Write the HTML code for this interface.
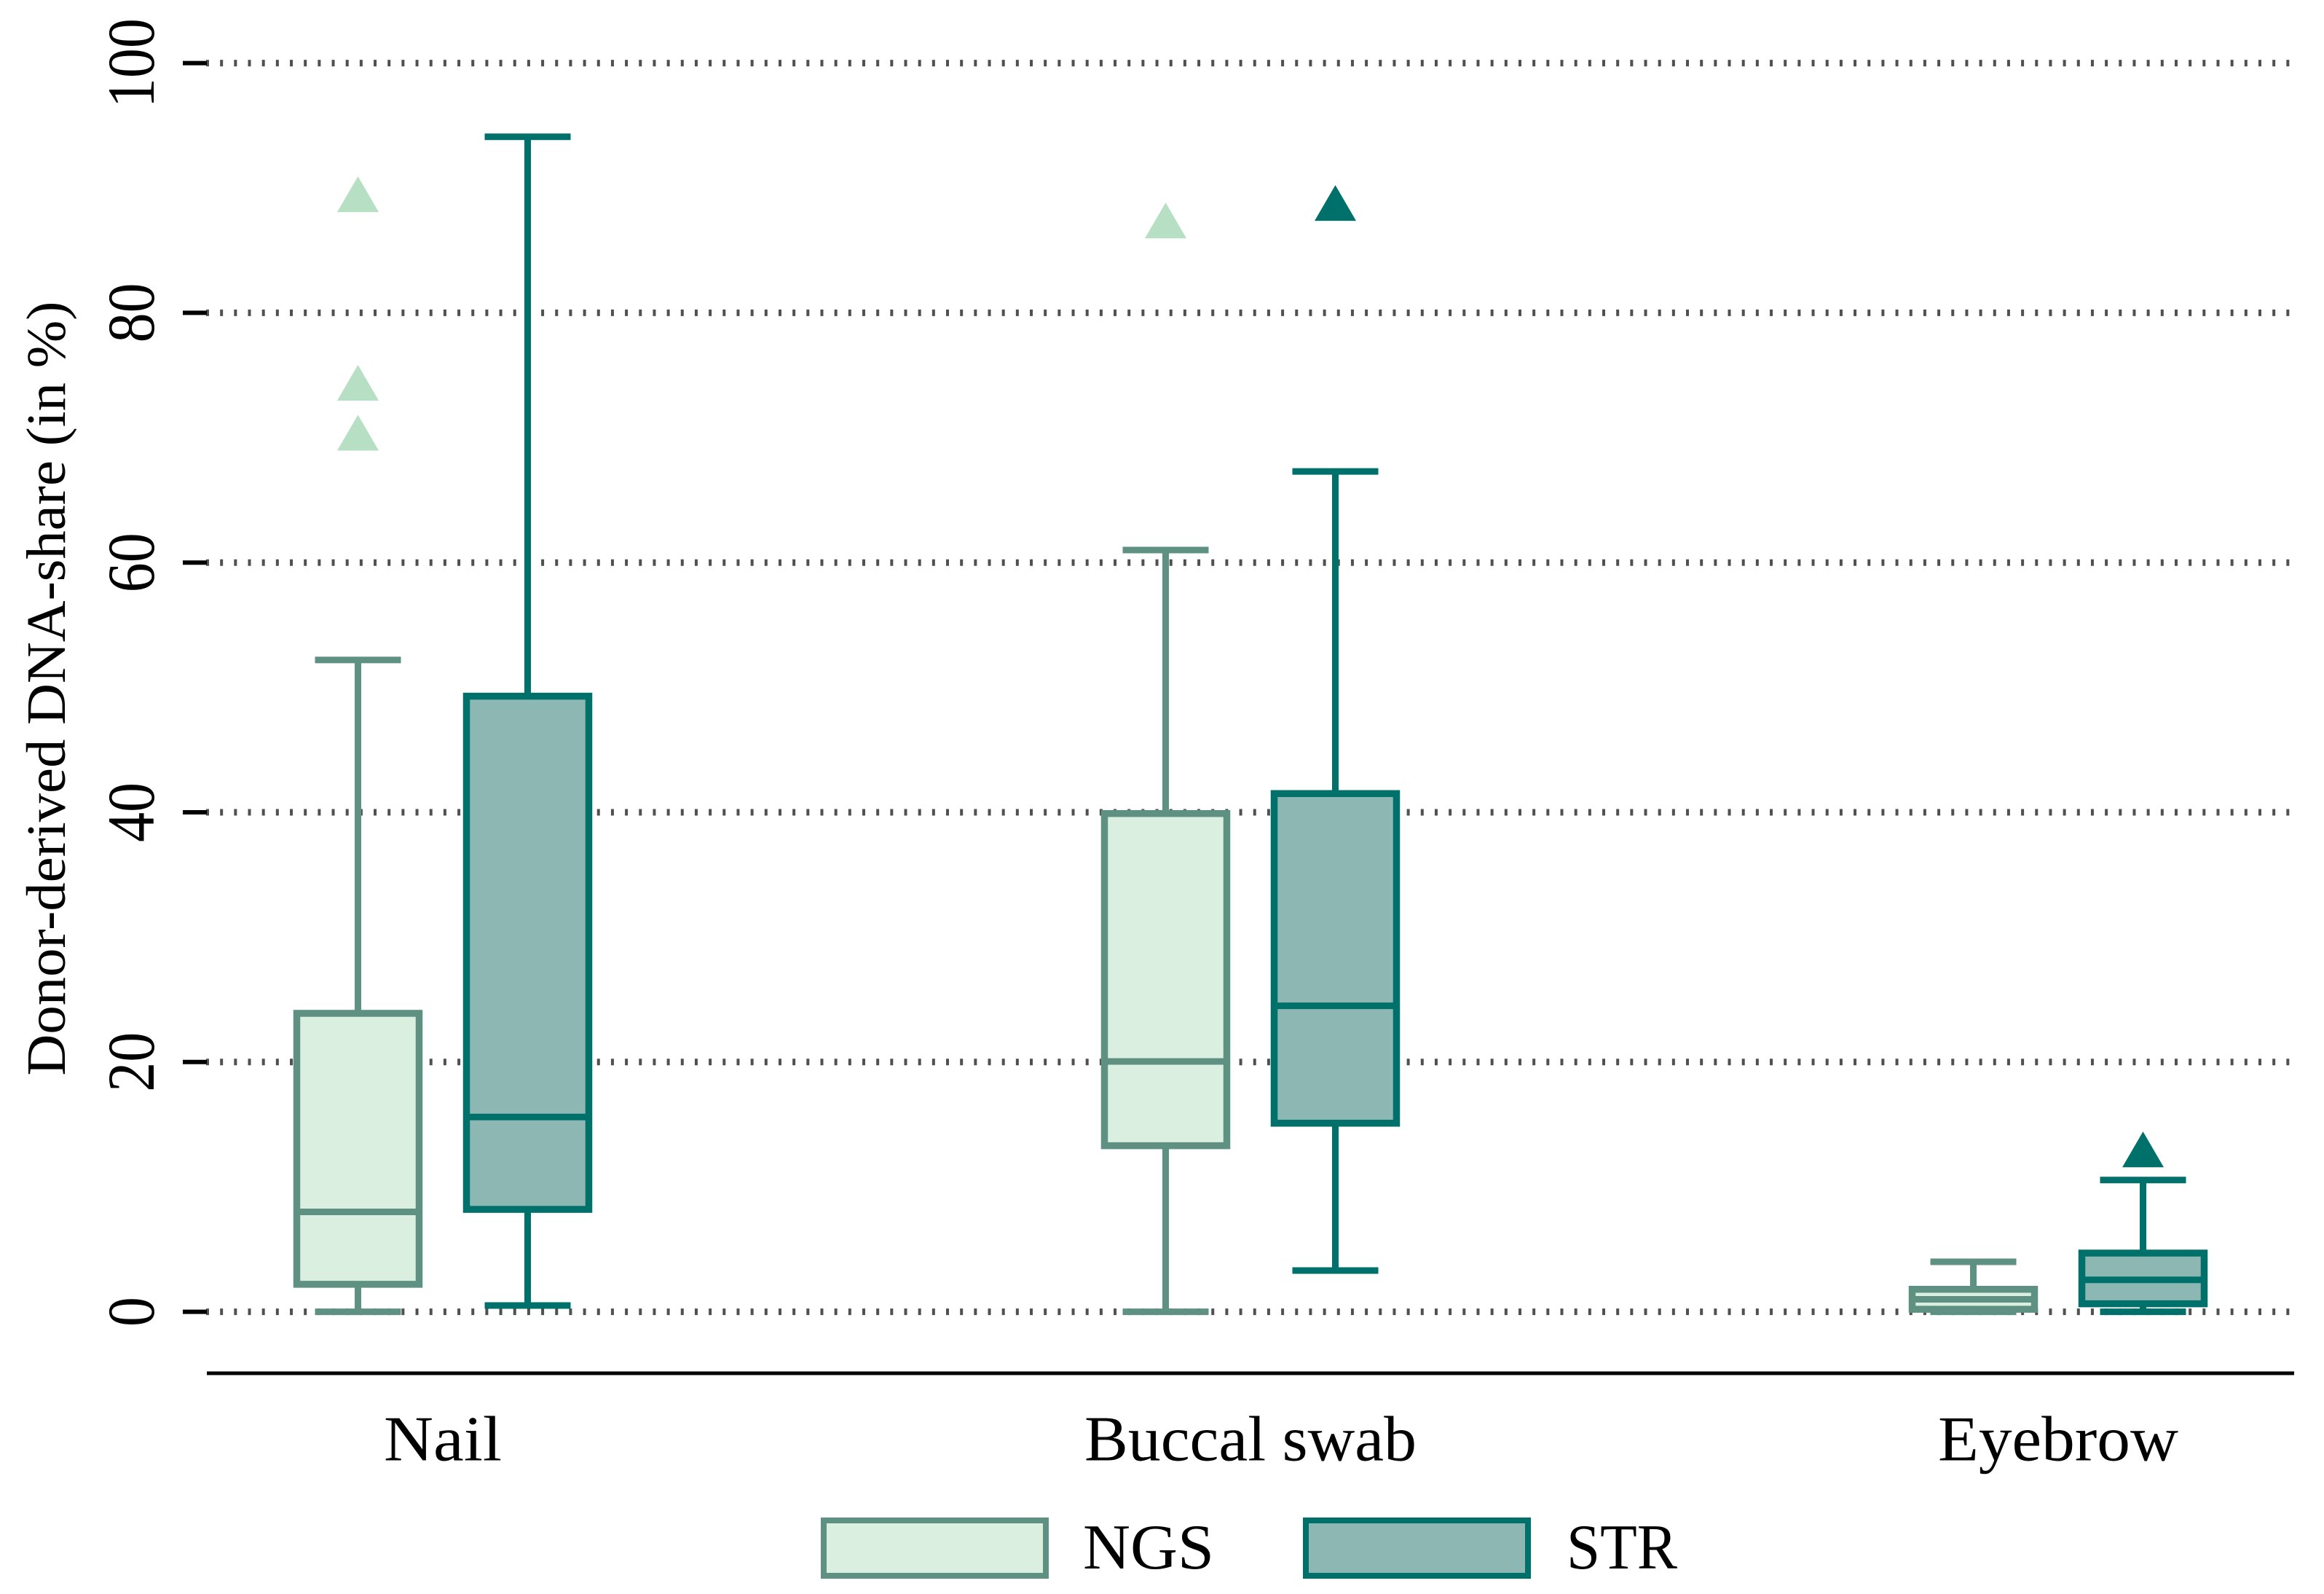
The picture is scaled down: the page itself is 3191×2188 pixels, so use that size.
<!DOCTYPE html>
<html lang="en">
<head>
<meta charset="utf-8">
<title>Donor-derived DNA-share</title>
<style>
  html, body { margin: 0; padding: 0; background: #ffffff; }
  svg { display: block; }
  text { font-family: "Liberation Serif", serif; fill: #000000; }
</style>
</head>
<body>
<svg id="chart" xmlns="http://www.w3.org/2000/svg" width="3191" height="2188" viewBox="0 0 3191 2188">
  <g id="grid"></g>
  <g id="yticks"></g>
  <text transform="translate(89 945) rotate(-90)" text-anchor="middle" font-size="76" textLength="1063" lengthAdjust="spacingAndGlyphs">Donor-derived DNA-share (in %)</text>
  <line x1="284" x2="3150" y1="1885" y2="1885" stroke="#000" stroke-width="5"/>
  <g id="xlabels"></g>
  <g id="marks"></g>
  <g>
    <g>
      <rect x="1131" y="2087" width="305" height="76" fill="#dbefe1" stroke="#5f9183" stroke-width="8"/>
      <text x="1487" y="2153" font-size="88" textLength="180" lengthAdjust="spacingAndGlyphs">NGS</text>
    </g>
    <g>
      <rect x="1793" y="2087" width="305" height="76" fill="#8cb7b2" stroke="#00706a" stroke-width="8"/>
      <text x="2151" y="2153" font-size="88" textLength="152" lengthAdjust="spacingAndGlyphs">STR</text>
    </g>
  </g>
</svg>
<script>
// ---- chart data ----
var categories = ['Nail', 'Buccal swab', 'Eyebrow'];
var categoryLabelWidths = [162, 456, 330];
var yTickValues = [0, 20, 40, 60, 80, 100];
var yTickLabels = ['0', '20', '40', '60', '80', '100'];

var ngsLow    = [0, 0, 0];
var ngsQ1     = [2.2, 13.3, 0.2];
var ngsMedian = [8.0, 20.05, 1.0];
var ngsQ3     = [23.9, 39.9, 1.8];
var ngsHigh   = [52.2, 61.0, 4.0];
var ngsOutliers = [[89.5, 74.4, 70.4], [87.4], []];

var strLow    = [0.5, 3.3, 0];
var strQ1     = [8.2, 15.1, 0.64];
var strMedian = [15.6, 24.5, 2.56];
var strQ3     = [49.3, 41.5, 4.7];
var strHigh   = [94.1, 67.3, 10.55];
var strOutliers = [[], [88.8], [13.0]];

// ---- axis functions ----
function yScale(v) { return 1800.6 - 17.14 * v; }
function xCategory(i) { return 608 + 1109 * i; }
function xSeries(i, s) { return xCategory(i) + (s === 0 ? -116.5 : 116.5); }

var SVGNS = 'http://www.w3.org/2000/svg';
function mk(parent, tag, attrs) {
  var el = document.createElementNS(SVGNS, tag);
  for (var k in attrs) { el.setAttribute(k, attrs[k]); }
  parent.appendChild(el);
  return el;
}

var gridG = document.getElementById('grid');
var yG = document.getElementById('yticks');
var xG = document.getElementById('xlabels');
var marksG = document.getElementById('marks');

yTickValues.forEach(function (v, i) {
  var y = yScale(v);
  var g = mk(gridG, 'line', { x1: 283, x2: 3146, y1: y, y2: y, stroke: '#505050', 'stroke-width': 9, 'stroke-dasharray': '4 15.17' });
  
  
  var t = mk(yG, 'line', { x1: 251, x2: 284, y1: y, y2: y, stroke: '#000', 'stroke-width': 6 });
  
  
  var label = mk(yG, 'text', { transform: 'translate(211 ' + y + ') rotate(-90)', 'text-anchor': 'middle', 'font-size': 92, textLength: yTickLabels[i].length * 41, lengthAdjust: 'spacingAndGlyphs' });
  label.textContent = yTickLabels[i];
  
  
});

categories.forEach(function (c, i) {
  var t = mk(xG, 'text', { x: xCategory(i), y: 2004.5, 'text-anchor': 'middle', 'font-size': 88, textLength: categoryLabelWidths[i], lengthAdjust: 'spacingAndGlyphs' });
  t.textContent = c;
  
  
});

function drawSeries(s, name, low, q1, med, q3, high, outliers, stroke, fill, tri) {
  categories.forEach(function (c, i) {
    var x = xSeries(i, s);
    var slug = name + '-' + c.toLowerCase().replace(' ', '-');
    var g = mk(marksG, 'g', {});
    
    

    var wl = mk(g, 'line', { x1: x, x2: x, y1: yScale(low[i]), y2: yScale(q1[i]), stroke: stroke, 'stroke-width': 9 });
    
    

    var wh = mk(g, 'line', { x1: x, x2: x, y1: yScale(high[i]), y2: yScale(q3[i]), stroke: stroke, 'stroke-width': 9 });
    
    

    var cl = mk(g, 'line', { x1: x - 59, x2: x + 59, y1: yScale(low[i]), y2: yScale(low[i]), stroke: stroke, 'stroke-width': 9 });
    
    

    var ch = mk(g, 'line', { x1: x - 59, x2: x + 59, y1: yScale(high[i]), y2: yScale(high[i]), stroke: stroke, 'stroke-width': 9 });
    
    

    var r = mk(g, 'rect', { x: x - 84, width: 168, y: yScale(q3[i]), height: yScale(q1[i]) - yScale(q3[i]), fill: fill, stroke: stroke, 'stroke-width': 9.5 });
    
    

    var m = mk(g, 'line', { x1: x - 84, x2: x + 84, y1: yScale(med[i]), y2: yScale(med[i]), stroke: stroke, 'stroke-width': 9 });
    
    

    outliers[i].forEach(function (v) {
      var y = yScale(v);
      var p = mk(g, 'polygon', { points: (x) + ',' + (y - 24.5) + ' ' + (x + 28.5) + ',' + (y + 24.5) + ' ' + (x - 28.5) + ',' + (y + 24.5), fill: tri });
      
      
    });
  });
}

drawSeries(0, 'ngs', ngsLow, ngsQ1, ngsMedian, ngsQ3, ngsHigh, ngsOutliers, '#5f9183', '#dbefe1', '#b6dfc3');
drawSeries(1, 'str', strLow, strQ1, strMedian, strQ3, strHigh, strOutliers, '#00706a', '#8cb7b2', '#00706a');
</script>
</body>
</html>
